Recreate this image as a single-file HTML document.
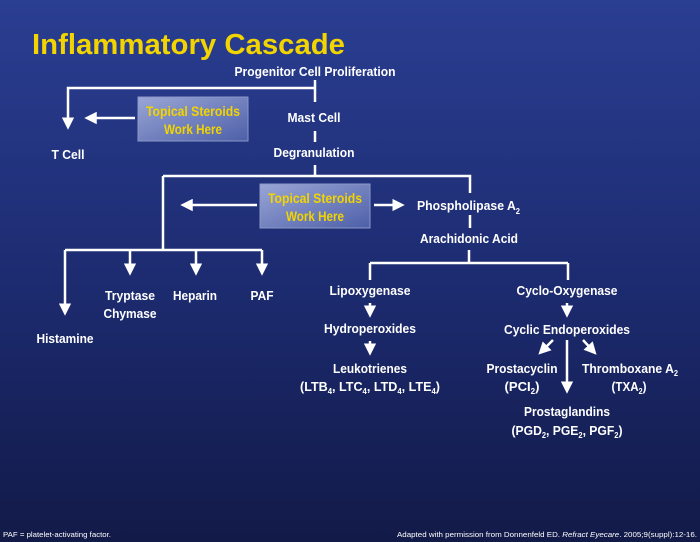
<!DOCTYPE html>
<html><head><meta charset="utf-8"><style>
html,body{margin:0;padding:0;width:700px;height:542px;overflow:hidden}
svg{display:block}
text{font-family:"Liberation Sans",Arial,sans-serif;font-weight:bold;fill:#fff}
</style></head><body>
<svg width="700" height="542" viewBox="0 0 700 542" xmlns="http://www.w3.org/2000/svg">
<defs>
<linearGradient id="bg" x1="0" y1="0" x2="0" y2="1">
<stop offset="0" stop-color="#2a3e92"/><stop offset="0.55" stop-color="#1c2a6e"/><stop offset="1" stop-color="#121a48"/>
</linearGradient>
<linearGradient id="bx" x1="0" y1="0" x2="1" y2="1">
<stop offset="0" stop-color="#9aa6d6"/><stop offset="1" stop-color="#4d5fa8"/>
</linearGradient>
<marker id="ah" markerWidth="5" markerHeight="5" refX="3.5" refY="2.5" orient="auto" markerUnits="strokeWidth">
<path d="M0,0 L5,2.5 L0,5 Z" fill="#fff"/>
</marker>
</defs>
<rect width="700" height="542" fill="url(#bg)"/>
<text x="32" y="54" font-size="29" style="fill:#f2d400" textLength="313" lengthAdjust="spacingAndGlyphs">Inflammatory Cascade</text>

<g stroke="#fff" stroke-width="2.5" fill="none">
<path d="M315 80 V102"/>
<path d="M315 88 H68 V126" marker-end="url(#ah)"/>
<path d="M135 118 H88" marker-end="url(#ah)"/>
<path d="M315 131 V142"/>
<path d="M315 165 V176 M163 176 H470 V193 M163 176 V250 M65 250 H262"/>
<path d="M65 250 V312" marker-end="url(#ah)"/>
<path d="M130 250 V272" marker-end="url(#ah)"/>
<path d="M196 250 V272" marker-end="url(#ah)"/>
<path d="M262 250 V272" marker-end="url(#ah)"/>
<path d="M257 205 H184" marker-end="url(#ah)"/>
<path d="M374 205 H401" marker-end="url(#ah)"/>
<path d="M470 215 V228 M469 250 V263 M370 263 H568 M370 263 V280 M568 263 V280"/>
<path d="M370 303 V314" marker-end="url(#ah)"/>
<path d="M370 341 V352" marker-end="url(#ah)"/>
<path d="M567 303 V314" marker-end="url(#ah)"/>
<path d="M553 340 L541 352" marker-end="url(#ah)"/>
<path d="M583 340 L594 352" marker-end="url(#ah)"/>
<path d="M567 340 V390" marker-end="url(#ah)"/>
</g>

<rect x="138" y="97" width="110" height="44" fill="url(#bx)" stroke="#8b97c8" stroke-width="1"/>
<rect x="260" y="184" width="110" height="44" fill="url(#bx)" stroke="#8b97c8" stroke-width="1"/>
<g font-size="14" text-anchor="middle">
<text x="193" y="116" style="fill:#f2d400" textLength="94" lengthAdjust="spacingAndGlyphs">Topical Steroids</text>
<text x="193" y="134" style="fill:#f2d400" textLength="58" lengthAdjust="spacingAndGlyphs">Work Here</text>
<text x="315" y="203" style="fill:#f2d400" textLength="94" lengthAdjust="spacingAndGlyphs">Topical Steroids</text>
<text x="315" y="221" style="fill:#f2d400" textLength="58" lengthAdjust="spacingAndGlyphs">Work Here</text>
</g>

<g font-size="13" text-anchor="middle">
<text x="315" y="76" textLength="161" lengthAdjust="spacingAndGlyphs">Progenitor Cell Proliferation</text>
<text x="314" y="122" textLength="53" lengthAdjust="spacingAndGlyphs">Mast Cell</text>
<text x="314" y="157" textLength="81" lengthAdjust="spacingAndGlyphs">Degranulation</text>
<text x="68" y="159" textLength="33" lengthAdjust="spacingAndGlyphs">T Cell</text>
<text x="65" y="343" textLength="57" lengthAdjust="spacingAndGlyphs">Histamine</text>
<text x="130" y="300" textLength="50" lengthAdjust="spacingAndGlyphs">Tryptase</text>
<text x="130" y="318" textLength="53" lengthAdjust="spacingAndGlyphs">Chymase</text>
<text x="195" y="300" textLength="44" lengthAdjust="spacingAndGlyphs">Heparin</text>
<text x="262" y="300" textLength="23" lengthAdjust="spacingAndGlyphs">PAF</text>
<text x="417" y="210" text-anchor="start" textLength="103" lengthAdjust="spacingAndGlyphs">Phospholipase A<tspan font-size="8" dy="4">2</tspan></text>
<text x="469" y="243" textLength="98" lengthAdjust="spacingAndGlyphs">Arachidonic Acid</text>
<text x="370" y="295" textLength="81" lengthAdjust="spacingAndGlyphs">Lipoxygenase</text>
<text x="567" y="295" textLength="101" lengthAdjust="spacingAndGlyphs">Cyclo-Oxygenase</text>
<text x="370" y="333" textLength="92" lengthAdjust="spacingAndGlyphs">Hydroperoxides</text>
<text x="567" y="334" textLength="126" lengthAdjust="spacingAndGlyphs">Cyclic Endoperoxides</text>
<text x="370" y="373" textLength="74" lengthAdjust="spacingAndGlyphs">Leukotrienes</text>
<text x="370" y="391" textLength="140" lengthAdjust="spacingAndGlyphs">(LTB<tspan font-size="8" dy="3">4</tspan><tspan dy="-3">, LTC</tspan><tspan font-size="8" dy="3">4</tspan><tspan dy="-3">, LTD</tspan><tspan font-size="8" dy="3">4</tspan><tspan dy="-3">, LTE</tspan><tspan font-size="8" dy="3">4</tspan><tspan dy="-3">)</tspan></text>
<text x="522" y="373" textLength="71" lengthAdjust="spacingAndGlyphs">Prostacyclin</text>
<text x="522" y="391" textLength="35" lengthAdjust="spacingAndGlyphs">(PCI<tspan font-size="8" dy="3">2</tspan><tspan dy="-3">)</tspan></text>
<text x="630" y="373" textLength="96" lengthAdjust="spacingAndGlyphs">Thromboxane A<tspan font-size="8" dy="3">2</tspan></text>
<text x="629" y="391" textLength="35" lengthAdjust="spacingAndGlyphs">(TXA<tspan font-size="8" dy="3">2</tspan><tspan dy="-3">)</tspan></text>
<text x="567" y="416" textLength="86" lengthAdjust="spacingAndGlyphs">Prostaglandins</text>
<text x="567" y="435" textLength="111" lengthAdjust="spacingAndGlyphs">(PGD<tspan font-size="8" dy="3">2</tspan><tspan dy="-3">, PGE</tspan><tspan font-size="8" dy="3">2</tspan><tspan dy="-3">, PGF</tspan><tspan font-size="8" dy="3">2</tspan><tspan dy="-3">)</tspan></text>
</g>

<text x="3" y="537" font-size="7.5" style="font-weight:normal" textLength="108" lengthAdjust="spacingAndGlyphs">PAF = platelet-activating factor.</text>
<text x="397" y="537" font-size="7.5" style="font-weight:normal" textLength="300" lengthAdjust="spacingAndGlyphs">Adapted with permission from Donnenfeld ED. <tspan font-style="italic">Refract Eyecare</tspan>. 2005;9(suppl):12-16.</text>
</svg>
</body></html>
